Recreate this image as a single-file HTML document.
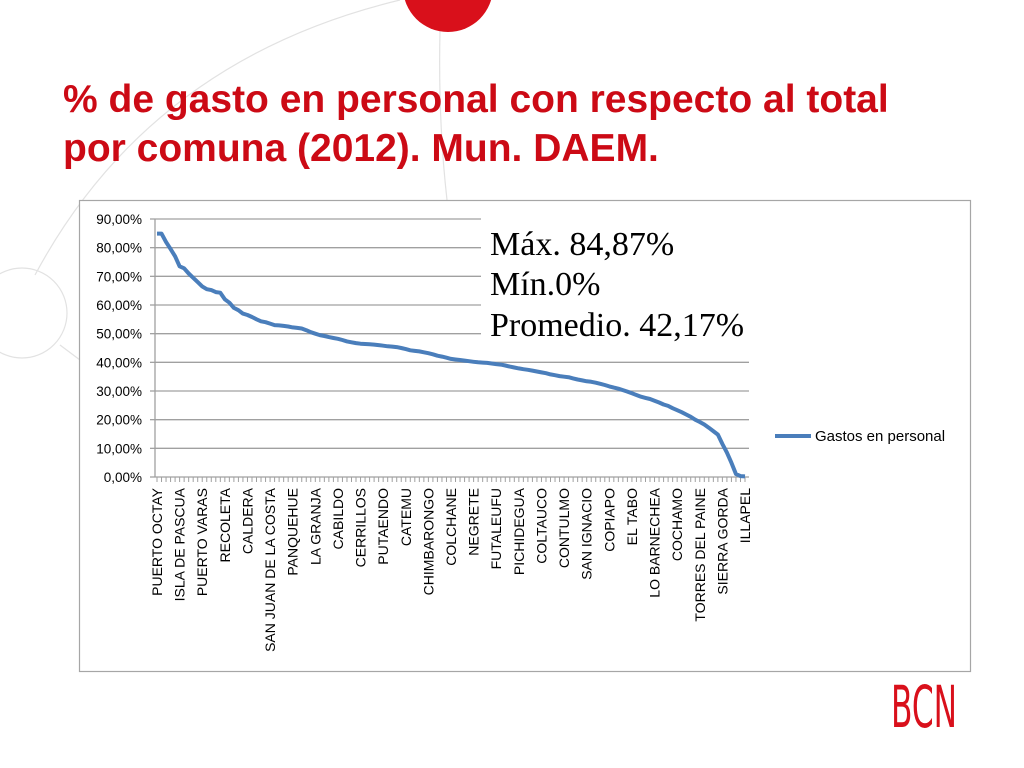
<!DOCTYPE html>
<html><head><meta charset="utf-8"><style>
html,body{margin:0;padding:0;background:#fff}
svg{display:block}
text{font-family:"Liberation Sans",sans-serif}
</style></head><body>
<svg id="chart" width="1024" height="768" viewBox="0 0 1024 768" xmlns="http://www.w3.org/2000/svg">
  <g fill="none" stroke="#e2e2e2" stroke-width="1.2">
    <path d="M35,275 Q150,60 400,0"/>
    <circle cx="22" cy="313" r="45"/>
    <path d="M440,30 Q438,120 447,200"/>
    <path d="M60,345 L80,360"/>
  </g>
  <circle cx="448" cy="-13" r="45" fill="#d9101b"/>
  <text x="63" y="112" font-size="39" font-weight="bold" fill="#cc0a15">% de gasto en personal con respecto al total</text>
  <text x="63" y="161" font-size="39" font-weight="bold" fill="#cc0a15">por comuna (2012). Mun. DAEM.</text>
  <rect x="79.5" y="200.5" width="891" height="471" fill="#fff" stroke="#a6a6a6" stroke-width="1.2"/>
  <g id="grid"></g>
  <g id="yticks"></g>
  <g id="xaxis"></g>
  <g id="series"></g>
  <g>
    <rect x="481" y="214" width="280" height="132" fill="#fff"/>
    <text x="490" y="255" font-size="34" style="font-family:'Liberation Serif',serif">Máx. 84,87%</text>
    <text x="490" y="295" font-size="34" style="font-family:'Liberation Serif',serif">Mín.0%</text>
    <text x="490" y="336" font-size="34" style="font-family:'Liberation Serif',serif">Promedio. 42,17%</text>
  </g>
  <g>
    <line x1="775" y1="436" x2="811" y2="436" stroke="#4a7ebb" stroke-width="4"/>
    <text x="815" y="441" font-size="15" fill="#000">Gastos en personal</text>
  </g>
  <text x="891" y="727" font-size="58" fill="#d9101b" textLength="66" lengthAdjust="spacingAndGlyphs" style="font-family:'DejaVu Sans Condensed','Liberation Sans Narrow',sans-serif;font-weight:200">BCN</text>
</svg>
<script>
const values = [84.9,84.9,82,79.5,77,73.5,72.8,71,69.5,68,66.5,65.5,65.2,64.5,64.3,62,60.8,59,58.2,57,56.5,55.8,55,54.3,54,53.5,53,52.9,52.7,52.5,52.2,52,51.8,51.2,50.5,50,49.5,49.2,48.8,48.5,48.2,47.8,47.3,47,46.7,46.5,46.4,46.3,46.2,46,45.8,45.6,45.5,45.3,45,44.6,44.2,44,43.8,43.5,43.2,42.8,42.3,42,41.6,41.2,41,40.8,40.6,40.4,40.2,40,39.9,39.8,39.6,39.4,39.2,38.9,38.5,38.2,37.9,37.6,37.4,37.1,36.8,36.5,36.2,35.8,35.5,35.2,35,34.8,34.4,34,33.7,33.4,33.2,32.9,32.5,32.1,31.6,31.2,30.8,30.3,29.8,29.2,28.6,28,27.6,27.2,26.6,26,25.3,24.8,24,23.3,22.6,21.8,21,20,19.2,18.3,17.2,16,14.8,11.5,8.5,5,1,0.3,0.2];
const labeledCategories = ["PUERTO OCTAY","ISLA DE PASCUA","PUERTO VARAS","RECOLETA","CALDERA","SAN JUAN DE LA COSTA","PANQUEHUE","LA GRANJA","CABILDO","CERRILLOS","PUTAENDO","CATEMU","CHIMBARONGO","COLCHANE","NEGRETE","FUTALEUFU","PICHIDEGUA","COLTAUCO","CONTULMO","SAN IGNACIO","COPIAPO","EL TABO","LO BARNECHEA","COCHAMO","TORRES DEL PAINE","SIERRA GORDA","ILLAPEL"];
const labelEvery = 5;
const yTicks = [0,10,20,30,40,50,60,70,80,90];
const yTickLabels = ["0,00%","10,00%","20,00%","30,00%","40,00%","50,00%","60,00%","70,00%","80,00%","90,00%"];

const NS = "http://www.w3.org/2000/svg";
const plotL = 155, plotR = 749, y0px = 477, y90px = 219;
const n = values.length;
const step = (745 - 157) / (n - 1);
function x(i){ return 157 + i * step; }
function y(v){ return y0px - (v / 90) * (y0px - y90px); }
function mk(tag, attrs, parent){ const e = document.createElementNS(NS, tag); for (const k in attrs) e.setAttribute(k, attrs[k]); parent.appendChild(e); return e; }

const grid = document.getElementById('grid');
const yt = document.getElementById('yticks');
yTicks.forEach((t, k) => {
  const gl = mk('line', {x1: plotL, x2: plotR, y1: y(t), y2: y(t), stroke: '#a0a0a0', 'stroke-width': 1.3}, grid);
  
  
  const tk = mk('line', {x1: plotL - 5, x2: plotL, y1: y(t), y2: y(t), stroke: '#a0a0a0', 'stroke-width': 1.3}, yt);
  
  
  const tl = mk('text', {x: 142, y: y(t) + 5, 'text-anchor': 'end', 'font-size': 13.5, fill: '#000'}, yt);
  tl.textContent = yTickLabels[k];
  
  
});
const ax = document.getElementById('xaxis');
const yaxis = mk('line', {x1: plotL, x2: plotL, y1: y90px, y2: y0px, stroke: '#a0a0a0', 'stroke-width': 1.3}, ax);


for (let i = 0; i < n; i++) {
  const tk = mk('line', {x1: x(i), x2: x(i), y1: y0px, y2: y0px + 5, stroke: '#a0a0a0', 'stroke-width': 1}, ax);
  
  
}
labeledCategories.forEach((c, k) => {
  const px = x(k * labelEvery);
  const t = mk('text', {x: 0, y: 0, 'text-anchor': 'end', 'font-size': 14, fill: '#000', transform: `translate(${px + 5},488) rotate(-90)`}, ax);
  t.textContent = c;
  
  
});
const s = document.getElementById('series');
const d = values.map((v, i) => (i ? 'L' : 'M') + x(i).toFixed(1) + ',' + y(v).toFixed(1)).join(' ');
const line = mk('path', {d: d, fill: 'none', stroke: '#4a7ebb', 'stroke-width': 4, 'stroke-linejoin': 'round'}, s);


</script>
</body></html>
